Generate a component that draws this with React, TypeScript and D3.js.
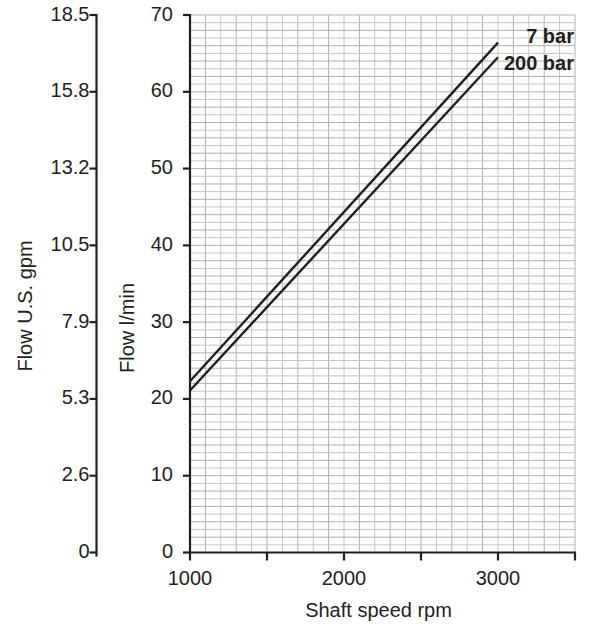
import React from "react";
import * as d3 from "d3";

const speedDomain = [1000, 3500];
const flowDomain = [0, 70];
const flowTicks = [0, 10, 20, 30, 40, 50, 60, 70];
const gpmTickLabels = ["0", "2.6", "5.3", "7.9", "10.5", "13.2", "15.8", "18.5"];
const speedMajorTicks = [1000, 2000, 3000];
const speedMinorTicks = [1500, 2500, 3500];
const seriesNames = ["7 bar", "200 bar"];
const speedPoints = [1000, 3000];
const flow7bar = [22.3, 66.4];
const flow200bar = [21.1, 64.5];

const W = 592;
const H = 628;
const plotL = 190;
const plotR = 575;
const plotT = 15;
const plotB = 552.5;
const gpmAxisX = 96.5;
const FONT = "'Liberation Sans', Arial, sans-serif";
const INK = "#231f20";
const FS = 20;

export default function App() {
  const x = d3.scaleLinear().domain(speedDomain).range([plotL, plotR]);
  const y = d3.scaleLinear().domain(flowDomain).range([plotB, plotT]);
  const vGrid = d3.range(speedDomain[0] + 100, speedDomain[1] + 1, 100);
  const hGrid = d3.range(flowDomain[0] + 1, flowDomain[1] + 1, 1);
  const line = d3
    .line<[number, number]>()
    .x((d) => x(d[0]))
    .y((d) => y(d[1]));
  const series = [flow7bar, flow200bar].map((vals) =>
    speedPoints.map((s, i) => [s, vals[i]] as [number, number])
  );

  return (
    <svg
      width={W}
      height={H}
      style={{ position: "absolute", left: 0, top: 0, background: "#fff" }}
      fontFamily={FONT}
    >
      <rect x={0} y={0} width={W} height={H} fill="#fff" />
      {/* grid */}
      <g>
        {vGrid.map((v, i) => (
          <line
            key={"v" + v}
            x1={x(v)}
            x2={x(v)}
            y1={plotT}
            y2={plotB}
            stroke={i % 2 === 0 ? "#b0b0b0" : "#c6c6c6"}
            strokeWidth={1}
          />
        ))}
        {hGrid.map((v, i) => (
          <line
            key={"h" + v}
            x1={plotL}
            x2={plotR}
            y1={y(v)}
            y2={y(v)}
            stroke={i % 2 === 0 ? "#c6c6c6" : "#b0b0b0"}
            strokeWidth={1}
          />
        ))}
      </g>
      {/* data lines */}
      {series.map((s, i) => (
        <path
          key={seriesNames[i]}
          d={line(s) || ""}
          fill="none"
          stroke={INK}
          strokeWidth={2.4}
        />
      ))}
      <text x={574} y={43} textAnchor="end" fontSize={FS} fontWeight="bold" fill={INK}>
        {seriesNames[0]}
      </text>
      <text x={574} y={70} textAnchor="end" fontSize={FS} fontWeight="bold" fill={INK}>
        {seriesNames[1]}
      </text>
      {/* main y axis */}
      <line x1={plotL} x2={plotL} y1={plotT - 1} y2={plotB} stroke={INK} strokeWidth={2.2} />
      {flowTicks.map((t) => (
        <g key={"fy" + t}>
          <line x1={plotL - 7} x2={plotL} y1={y(t)} y2={y(t)} stroke={INK} strokeWidth={2.2} />
          <text x={173} y={y(t) + 5.5} textAnchor="end" fontSize={FS} fill={INK}>
            {t}
          </text>
        </g>
      ))}
      {/* gpm axis */}
      <line x1={gpmAxisX} x2={gpmAxisX} y1={plotT - 1} y2={plotB + 4} stroke={INK} strokeWidth={2.2} />
      {flowTicks.map((t, i) => (
        <g key={"gy" + t}>
          <line x1={gpmAxisX - 7} x2={gpmAxisX} y1={y(t)} y2={y(t)} stroke={INK} strokeWidth={2.2} />
          <text x={89.5} y={y(t) + 5.5} textAnchor="end" fontSize={FS} fill={INK}>
            {gpmTickLabels[i]}
          </text>
        </g>
      ))}
      {/* x axis */}
      <line x1={plotL - 1} x2={plotR + 1} y1={plotB} y2={plotB} stroke={INK} strokeWidth={2.2} />
      {[...speedMajorTicks, ...speedMinorTicks].map((t) => (
        <line key={"xt" + t} x1={x(t)} x2={x(t)} y1={plotB} y2={plotB + 8} stroke={INK} strokeWidth={2.2} />
      ))}
      {speedMajorTicks.map((t) => (
        <text key={"xl" + t} x={x(t)} y={585} textAnchor="middle" fontSize={FS} fill={INK}>
          {t}
        </text>
      ))}
      {/* titles */}
      <text x={378.5} y={617} textAnchor="middle" fontSize={FS} fill={INK}>
        Shaft speed rpm
      </text>
      <text
        transform={`translate(32,306) rotate(-90)`}
        textAnchor="middle"
        fontSize={FS}
        fill={INK}
      >
        Flow U.S. gpm
      </text>
      <text
        transform={`translate(134,328) rotate(-90)`}
        textAnchor="middle"
        fontSize={FS}
        fill={INK}
      >
        Flow l/min
      </text>
    </svg>
  );
}
